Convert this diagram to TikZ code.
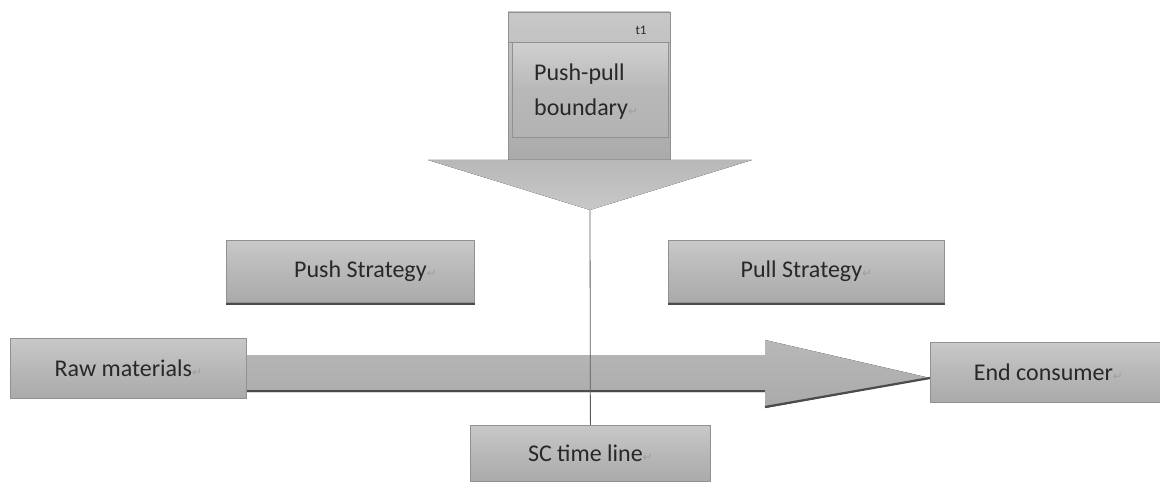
\documentclass[tikz,border=0pt]{standalone}
\usepackage{fontspec}
\setmainfont{Carlito}
\newfontfamily\symfont{DejaVu Sans}
\definecolor{boxtop}{RGB}{200,200,200}
\definecolor{boxmid}{RGB}{184,184,184}
\definecolor{boxbot}{RGB}{170,170,170}
\definecolor{edge}{RGB}{145,145,145}
\definecolor{shadowc}{RGB}{75,75,75}
\definecolor{txt}{RGB}{40,40,40}
\definecolor{markc}{RGB}{160,160,160}
\newcommand{\pmark}{{\symfont\fontsize{12pt}{12pt}\selectfont\color{markc}↵}}
\tikzset{
  box/.style={draw=edge, line width=0.8pt, top color=boxtop, bottom color=boxbot, middle color=boxmid,
    text=txt, font=\fontsize{24pt}{28pt}\selectfont, inner sep=0pt, anchor=north west},
  lbl/.style={text=txt, font=\fontsize{24pt}{28pt}\selectfont, inner sep=0pt, anchor=base west},
  shadowline/.style={draw=shadowc, line width=2.2pt},
  conn/.style={draw=gray!70!black, line width=0.8pt}
}
\begin{document}
\begin{tikzpicture}[x=1pt,y=-1pt]
\useasboundingbox (0,0) rectangle (1160,497);
% push-pull boundary arrow
\fill[top color=boxtop, bottom color=boxbot] (508,12) rectangle (670,160);
\draw[edge, line width=0.8pt] (508,160) -- (508,12) -- (670,12) -- (670,160);
\draw[edge, line width=0.8pt] (508,42) -- (670,42);
\node[text=txt, font=\fontsize{13pt}{13pt}\selectfont, anchor=east] (t1) at (650,30) {t1};
\node[box, minimum width=156pt, minimum height=95pt, top color=boxtop!85!white, bottom color=boxbot!90!white, middle color=boxmid] (ppb) at (512,42) {};
\node[lbl] (ppb1) at (534,81) {Push-pull};
\node[lbl] (ppb2) at (534,116) {boundary\pmark};
\fill[top color=boxmid, bottom color=boxtop] (428,160) -- (752,160) -- (590,210) -- cycle;
\coordinate (apex) at (590,210);
% strategy boxes
\node[box, minimum width=248pt, minimum height=62pt] (push) at (226,240) {\hspace*{30pt}Push Strategy\pmark};
\draw[shadowline] ([yshift=-1pt]push.south west) -- ([yshift=-1pt]push.south east);
\node[box, minimum width=276pt, minimum height=62pt] (pull) at (668,240) {Pull Strategy\pmark};
\draw[shadowline] ([yshift=-1pt]pull.south west) -- ([yshift=-1pt]pull.south east);
% big arrow
\fill[top color=boxmid, bottom color=boxbot] (246,355) -- (765,355) -- (765,340) -- (930,378) -- (765,408) -- (765,392) -- (246,392) -- cycle;
\draw[shadowline] (246,391) -- (765,391);
\draw[shadowline] (765,407) -- (930,378);
% end boxes
\node[box, minimum width=236pt, minimum height=60pt] (raw) at (10,338) {Raw materials\pmark};
\node[box, minimum width=232pt, minimum height=60pt] (end) at (930,342) {\hspace*{4pt}End consumer\pmark};
\node[box, minimum width=240pt, minimum height=56pt] (sc) at (470,425) {SC time line\pmark};
% timeline connector
\draw[conn] (apex) -- (sc.north);
\end{tikzpicture}
\end{document}
